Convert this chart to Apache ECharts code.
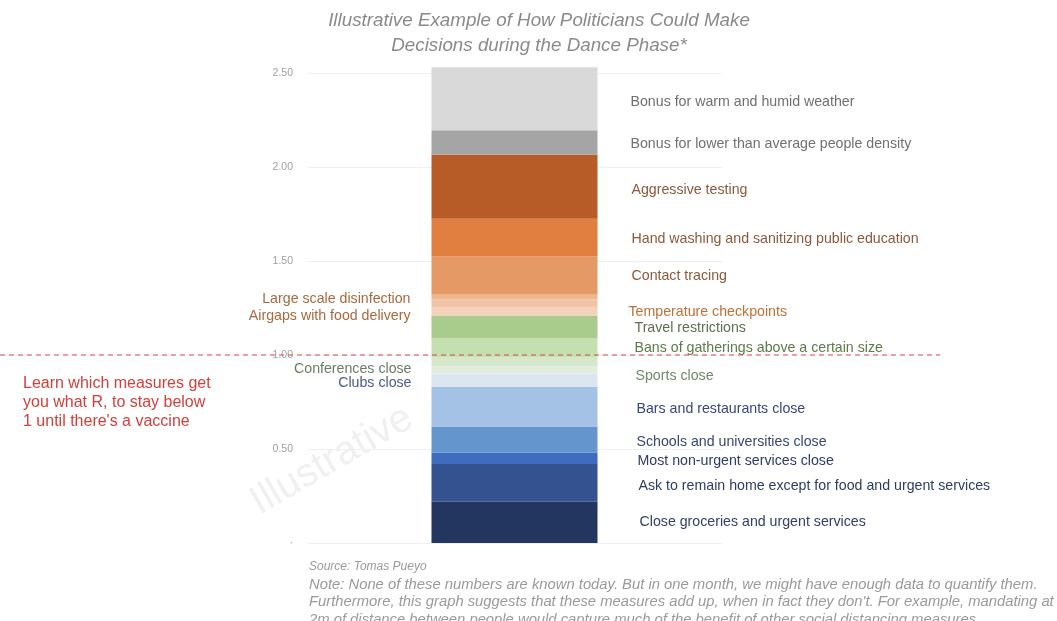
<!DOCTYPE html>
<html>
<head>
<meta charset="utf-8">
<script src="https://cdn.jsdelivr.net/npm/echarts@6/dist/echarts.min.js"></script>
<style>
html,body{margin:0;padding:0;background:#fff;}
#chart{width:1057px;height:621px;}
</style>
</head>
<body>
<div id="chart"></div>
<script>
// ---- data (bottom of the stack first) ----
const measures = [
  'Close groceries and urgent services',
  'Ask to remain home except for food and urgent services',
  'Most non-urgent services close',
  'Schools and universities close',
  'Bars and restaurants close',
  'Clubs close',
  'Conferences close',
  'Sports close',
  'Bans of gatherings above a certain size',
  'Travel restrictions',
  'Airgaps with food delivery',
  'Temperature checkpoints',
  'Large scale disinfection',
  'Contact tracing',
  'Hand washing and sanitizing public education',
  'Aggressive testing',
  'Bonus for lower than average people density',
  'Bonus for warm and humid weather'
];
const rImpact = [0.22, 0.20, 0.06, 0.14, 0.21, 0.07, 0.04, 0.05, 0.10, 0.12, 0.045, 0.04, 0.03, 0.20, 0.20, 0.34, 0.13, 0.335];
const thresholdR = [[0, 1], [1, 1]];
const yTicks = [0, 0.5, 1, 1.5, 2, 2.5];
const titleLines = ['Illustrative Example of How Politicians Could Make', 'Decisions during the Dance Phase*'];
const sourceLine = 'Source: Tomas Pueyo';
const noteLines = [
  'Note: None of these numbers are known today. But in one month, we might have enough data to quantify them.',
  'Furthermore, this graph suggests that these measures add up, when in fact they don\'t. For example, mandating at least',
  '2m of distance between people would capture much of the benefit of other social distancing measures'
];
const callout = ['Learn which measures get', 'you what R, to stay below', '1 until there\'s a vaccine'];

// ---- styles ----
const segColors = ['#23365f','#33528f','#3f6cbf','#6496cd','#a4c2e6','#dbe6f2','#e4ece0','#d5e8c8','#c4dfb0','#a9cc8c','#f5d2bb','#f2c4a6','#eeb58f','#e59a66','#e07f3f','#b85c27','#a5a5a5','#d9d9d9'];
const labelStyle = [
  {side:'right', dist:42, dy:0, color:'#34406a'},
  {side:'right', dist:41, dy:3, color:'#2e3b64'},
  {side:'right', dist:40, dy:3, color:'#2e3b64'},
  {side:'right', dist:39, dy:2, color:'#38467a'},
  {side:'right', dist:39, dy:2, color:'#38467a'},
  {side:'left',  dist:20, dy:3, color:'#4a5a8a'},
  {side:'left',  dist:20, dy:-1, color:'#6b7c66'},
  {side:'right', dist:38, dy:15, color:'#6f8a68'},
  {side:'right', dist:37, dy:1, color:'#5f7a4a'},
  {side:'right', dist:37, dy:1, color:'#5f6f4f'},
  {side:'left',  dist:21, dy:5, color:'#a8693e'},
  {side:'right', dist:31, dy:9, color:'#bd7038'},
  {side:'left',  dist:21, dy:2, color:'#a8693e'},
  {side:'right', dist:34, dy:1, color:'#8b5a3a'},
  {side:'right', dist:34, dy:2, color:'#8b5a3a'},
  {side:'right', dist:34, dy:3, color:'#8b5a3a'},
  {side:'right', dist:33, dy:2, color:'#707070'},
  {side:'right', dist:33, dy:3, color:'#707070'}
];
const FONT = '"Liberation Sans", Arial, Helvetica, sans-serif';

const series = measures.map((name, i) => ({
  name: name,
  type: 'bar',
  stack: 'r',
  xAxisIndex: 0, yAxisIndex: 0,
  barWidth: 166,
  clip: false,
  data: [rImpact[i]],
  itemStyle: {color: segColors[i]},
  silent: true,
  label: {
    show: true,
    position: labelStyle[i].side,
    distance: labelStyle[i].dist,
    offset: [0, labelStyle[i].dy],
    formatter: name,
    color: labelStyle[i].color,
    fontSize: 14.2,
    fontFamily: FONT
  }
}));

series.push({
  name: 'R = 1',
  type: 'line',
  xAxisIndex: 1, yAxisIndex: 1,
  data: thresholdR,
  showSymbol: false,
  symbol: 'none',
  silent: true,
  z: 10,
  lineStyle: {color: '#d9463e', width: 1.2, type: [5, 4]}
});

const chart = echarts.init(document.getElementById('chart'), null, {renderer: 'canvas'});
chart.setOption({
  backgroundColor: '#ffffff',
  animation: false,
  title: [
    {text: titleLines.join('\n'), left: 534, top: 3, textAlign: 'center',
     textStyle: {fontFamily: FONT, fontStyle: 'italic', fontWeight: 'normal', fontSize: 18.8, color: '#8a8a8a', lineHeight: 25, align: 'center'}},
    {text: '{s|' + sourceLine + '}\n' + noteLines.map(l => '{n|' + l + '}').join('\n'), left: 304, top: 553,
     textStyle: {fontWeight: 'normal', rich: {
       s: {fontFamily: FONT, fontStyle: 'italic', fontWeight: 'normal', fontSize: 12, color: '#9a9a9a', lineHeight: 18},
       n: {fontFamily: FONT, fontStyle: 'italic', fontWeight: 'normal', fontSize: 14.8, color: '#9a9a9a', lineHeight: 17.5}
     }}},
    {text: callout.join('\n'), left: 18, top: 369,
     textStyle: {fontFamily: FONT, fontWeight: 'normal', fontSize: 16, color: '#d0413b', lineHeight: 19}}
  ],
  graphic: [
    {type: 'text', left: 244, top: 398, rotation: Math.PI / 6, z: -1,
     style: {text: 'Illustrative', fontFamily: FONT, fontSize: 40, fill: '#f0f0f0'}}
  ],
  grid: [
    {left: 307, width: 415, top: 73, height: 470},
    {left: 0, width: 940, top: 73, height: 470}
  ],
  xAxis: [
    {type: 'category', gridIndex: 0, data: ['R'], axisLine: {show: false}, axisTick: {show: false}, axisLabel: {show: false}},
    {type: 'value', gridIndex: 1, min: 0, max: 1, show: false}
  ],
  yAxis: [
    {type: 'value', gridIndex: 0, min: 0, max: 2.5, interval: 0.5,
     axisLine: {show: false}, axisTick: {show: false},
     splitLine: {lineStyle: {color: '#eceff3', width: 1}},
     axisLabel: {margin: 14, fontFamily: FONT, fontSize: 10.5, color: '#a0a0a0',
       formatter: v => (yTicks.indexOf(v) > 0 ? v.toFixed(2) : '·')}},
    {type: 'value', gridIndex: 1, min: 0, max: 2.5, show: false}
  ],
  series: series
});
</script>
</body>
</html>
